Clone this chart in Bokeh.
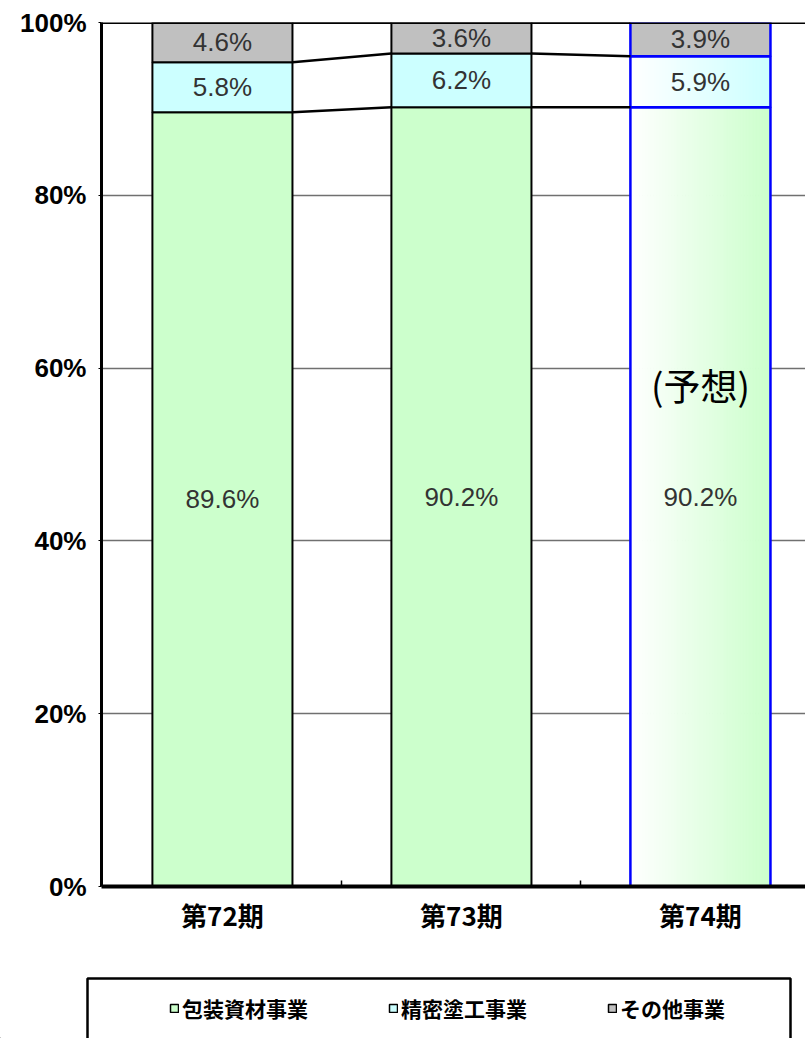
from bokeh.plotting import figure
from bokeh.layouts import column
from bokeh.models import (Range1d, FixedTicker, PrintfTickFormatter, Span,
                          Legend, LegendItem, ColumnDataSource)
from bokeh.core.properties import value
from bokeh.embed import file_html
from bokeh.resources import INLINE

# ---------------- data ----------------
periods = ["第72期", "第73期", "第74期"]
packaging = [89.6, 90.2, 90.2]      # 包装資材事業
precision = [5.8, 6.2, 5.9]         # 精密塗工事業
other = [4.6, 3.6, 3.9]             # その他事業
forecast = [False, False, True]
series_names = ["包装資材事業", "精密塗工事業", "その他事業"]
y_ticks = [0, 20, 40, 60, 80, 100]
forecast_note = "(予想)"

# ---------------- style ----------------
series_colors = ["#CCFFCC", "#CCFFFF", "#C0C0C0"]
W, H = 805, 960
LEFT, TOP, BOTTOM = 101, 22, 74
UNIT = 239.0                     # px per category
BAR_W = 0.586
X_START = 0.494
X_END = X_START + (W - LEFT) / UNIT
CJK = "Noto Sans CJK JP"
LAT = "Liberation Sans"

xs = [i + 1 for i in range(len(periods))]
series = [packaging, precision, other]
bottoms, tops = [], []
run = [0.0] * len(periods)
for s in series:
    bottoms.append(list(run))
    run = [r + v for r, v in zip(run, s)]
    tops.append(list(run))

p = figure(width=W, height=H, output_backend="svg", toolbar_location=None,
           x_range=Range1d(X_START, X_END), y_range=Range1d(0, 100),
           min_border_left=LEFT, min_border_right=0, min_border_top=TOP,
           min_border_bottom=BOTTOM, outline_line_color=None,
           background_fill_color="white", border_fill_color="white")
p.frame_align = False

# grid
p.xgrid.visible = False
p.ygrid.ticker = FixedTicker(ticks=y_ticks)
p.ygrid.grid_line_color = "#707070"
p.ygrid.grid_line_width = 1.5

# regular bars
normal_idx = [i for i, f in enumerate(forecast) if not f]
fc_idx = [i for i, f in enumerate(forecast) if f]
for k, s in enumerate(series):
    src = ColumnDataSource(dict(x=[xs[i] for i in normal_idx],
                                b=[bottoms[k][i] for i in normal_idx],
                                t=[tops[k][i] for i in normal_idx]))
    p.vbar(x="x", bottom="b", top="t", width=BAR_W, source=src,
           fill_color=series_colors[k], line_color="black", line_width=2)


def hex_to_rgb(h):
    h = h.lstrip("#")
    return tuple(int(h[j:j + 2], 16) for j in (0, 2, 4))


def mix(c, t):
    r, g, b = hex_to_rgb(c)
    return "#%02x%02x%02x" % (round(255 + (r - 255) * t),
                               round(255 + (g - 255) * t),
                               round(255 + (b - 255) * t))


# forecast bar: gradient strips (white -> colour) for first two series
N = 48
for i in fc_idx:
    x0 = xs[i] - BAR_W / 2
    for k in range(len(series)):
        if k < 2:
            L, R, C = [], [], []
            for j in range(N):
                L.append(x0 + j * BAR_W / N)
                R.append(x0 + (j + 1) * BAR_W / N)
                C.append(mix(series_colors[k], (j + 0.5) / N))
            src = ColumnDataSource(dict(l=L, r=R, c=C,
                                        b=[bottoms[k][i]] * N, t=[tops[k][i]] * N))
            p.quad(left="l", right="r", bottom="b", top="t", source=src,
                   fill_color="c", line_color="c", line_width=1)
        else:
            p.quad(left=[x0], right=[x0 + BAR_W], bottom=[bottoms[k][i]],
                   top=[tops[k][i]], fill_color=series_colors[k], line_color=None)
    p.quad(left=[x0] * len(series), right=[x0 + BAR_W] * len(series),
           bottom=[bottoms[k][i] for k in range(len(series))],
           top=[tops[k][i] for k in range(len(series))],
           fill_color=None, line_color="#0000FF", line_width=2.5)

# series lines between bars
sx0, sy0, sx1, sy1 = [], [], [], []
for i in range(len(periods) - 1):
    for k in range(len(series)):
        sx0.append(xs[i] + BAR_W / 2)
        sy0.append(tops[k][i])
        sx1.append(xs[i + 1] - BAR_W / 2)
        sy1.append(tops[k][i + 1])
p.segment(x0=sx0, y0=sy0, x1=sx1, y1=sy1, line_color="black", line_width=2.5)

# data labels
lx, ly, lt = [], [], []
for k, s in enumerate(series):
    for i in range(len(periods)):
        lx.append(xs[i])
        ly.append((bottoms[k][i] + tops[k][i]) / 2)
        lt.append("%.1f%%" % s[i])
p.text(x=lx, y=ly, text=lt, text_align="center", text_baseline="middle",
       text_font=value(LAT), text_font_size="26px", text_color="#333333")

# forecast note
p.text(x=[xs[i] for i in fc_idx], y=[58] * len(fc_idx), text=[forecast_note] * len(fc_idx),
       text_align="center", text_baseline="middle", text_font=value(CJK),
       text_font_size="37px", text_color="black")

# top border
p.add_layout(Span(location=100, dimension="width", line_color="black", line_width=3))

# axes
p.xaxis.ticker = FixedTicker(ticks=xs, minor_ticks=[x + 0.5 for x in xs[:-1]])
p.xaxis.major_label_overrides = {x: lab for x, lab in zip(xs, periods)}
p.xaxis.axis_line_width = 4
p.xaxis.axis_line_color = "black"
p.xaxis.major_tick_line_color = None
p.xaxis.minor_tick_in = 6
p.xaxis.minor_tick_out = 0
p.xaxis.minor_tick_line_color = "black"
p.xaxis.minor_tick_line_width = 1.5
p.xaxis.major_label_text_font = CJK
p.xaxis.major_label_text_font_style = "bold"
p.xaxis.major_label_text_font_size = "26px"
p.xaxis.major_label_text_color = "black"
p.xaxis.major_label_standoff = 3

p.yaxis.ticker = FixedTicker(ticks=y_ticks)
p.yaxis.formatter = PrintfTickFormatter(format="%d%%")
p.yaxis.axis_line_width = 3
p.yaxis.axis_line_color = "black"
p.yaxis.major_tick_in = 0
p.yaxis.major_tick_out = 3
p.yaxis.major_tick_line_color = "black"
p.yaxis.minor_tick_line_color = None
p.yaxis.major_label_text_font = LAT
p.yaxis.major_label_text_font_style = "bold"
p.yaxis.major_label_text_font_size = "26px"
p.yaxis.major_label_text_color = "black"
p.yaxis.major_label_standoff = 12

# ---------------- legend strip (second figure, pixel-unit ranges) ----------------
LH = 1038 - H
q = figure(width=W, height=LH, output_backend="svg", toolbar_location=None,
           x_range=Range1d(0, W), y_range=Range1d(0, LH),
           x_axis_location=None, y_axis_location=None,
           min_border_left=0, min_border_right=0, min_border_top=0,
           min_border_bottom=0, outline_line_color=None,
           background_fill_color="white", border_fill_color="white")
q.frame_align = False
q.xgrid.visible = False
q.ygrid.visible = False

# legend frame (open at the bottom, like the cropped original)
BOX_L, BOX_R, BOX_T = 87, 790, LH - 18
q.multi_line(xs=[[BOX_L, BOX_L, BOX_R, BOX_R]], ys=[[-10, BOX_T, BOX_T, -10]],
             line_color="black", line_width=2.5)

# legend-only renderers (their single point lies well outside the strip)
swatches = [q.vbar(x=[-100], bottom=[-300], top=[-200], width=10, fill_color=c,
                   line_color="black", line_width=1.5) for c in series_colors]
legend = Legend(items=[LegendItem(label=n, renderers=[r])
                       for n, r in zip(series_names, swatches)],
                location=(169, 15), orientation="horizontal",
                glyph_width=10, glyph_height=10, label_standoff=3,
                label_height=21, padding=0, spacing=80, margin=0,
                border_line_color=None, background_fill_alpha=0,
                label_text_font=CJK, label_text_font_style="bold",
                label_text_font_size="21px", label_text_color="black")
q.add_layout(legend, "center")

layout = column(p, q, spacing=0)
open("out.html", "w").write(file_html(layout, INLINE))
